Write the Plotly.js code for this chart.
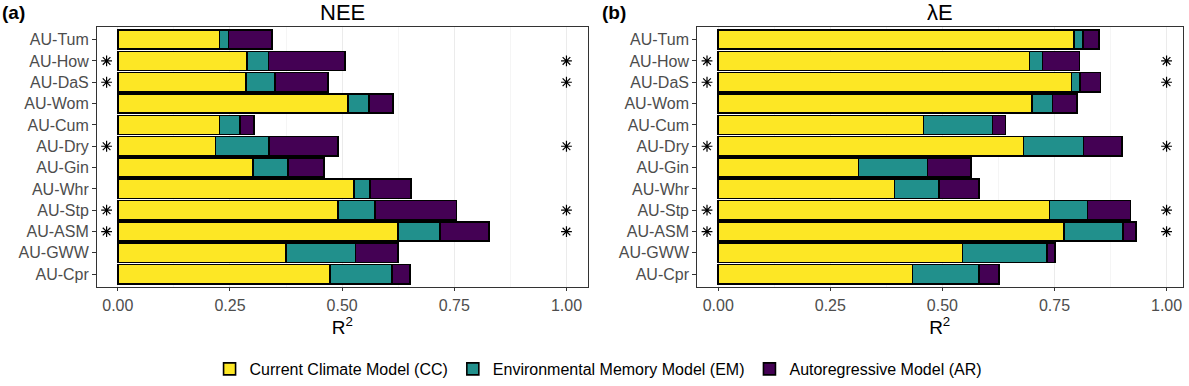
<!DOCTYPE html>
<html><head><meta charset="utf-8">
<script src="https://cdn.plot.ly/plotly-3.0.1.min.js"></script>
<style>html,body{margin:0;padding:0;background:#fff}</style>
</head><body><div id="chart" style="width:1189px;height:386px"></div>
<script>
// Sites, top to bottom
const sites = ['AU-Tum','AU-How','AU-DaS','AU-Wom','AU-Cum','AU-Dry','AU-Gin','AU-Whr','AU-Stp','AU-ASM','AU-GWW','AU-Cpr'];
const models = ['Current Climate Model (CC)','Environmental Memory Model (EM)','Autoregressive Model (AR)'];

// NEE: stacked R2 increments per model
const neeCC = [0.227,0.288,0.286,0.513,0.227,0.218,0.301,0.527,0.491,0.625,0.375,0.473];
const neeEM = [0.020,0.048,0.064,0.047,0.045,0.119,0.078,0.035,0.082,0.093,0.155,0.138];
const neeAR = [0.097,0.170,0.119,0.053,0.032,0.154,0.081,0.091,0.182,0.109,0.094,0.040];

// lambda E: stacked R2 increments per model
const leCC = [0.793,0.694,0.788,0.700,0.458,0.681,0.313,0.393,0.739,0.771,0.545,0.433];
const leEM = [0.021,0.029,0.019,0.046,0.154,0.134,0.154,0.099,0.085,0.132,0.188,0.148];
const leAR = [0.035,0.083,0.046,0.054,0.029,0.085,0.097,0.089,0.096,0.029,0.018,0.045];

// Sites marked with asterisks
const starSites = ['AU-How','AU-DaS','AU-Dry','AU-Stp','AU-ASM'];
const starLowX = -0.025, starHighX = 1.0;

const panelTitles = ['NEE','λE'];
const panelTags = ['(a)','(b)'];
const tickVals = [0,0.25,0.5,0.75,1];
const tickText = ['0.00','0.25','0.50','0.75','1.00'];
const colors = ['#FDE725','#21908C','#440154'];

const W = 1189, H = 386;
const FONT = 'Liberation Sans, Arial, sans-serif';
const panels = [
  {data:[neeCC,neeEM,neeAR], xa:'x', ya:'y', dom:[96.5,588], range:[-0.0475,1.048]},
  {data:[leCC,leEM,leAR], xa:'x2', ya:'y2', dom:[696.7,1182.7], range:[-0.048,1.036]}
];
const plotTop = 27.3, plotBot = 292.3;

const traces = [];
panels.forEach((p, pi) => {
  p.data.forEach((vals, mi) => {
    traces.push({
      type:'bar', orientation:'h', x: vals, y: sites,
      xaxis: p.xa, yaxis: p.ya, name: models[mi], legendgroup: 'm'+mi,
      showlegend: pi === 0,
      marker:{color: colors[mi], line:{color:'#000', width:1.6}},
      hoverinfo:'x+y+name'
    });
  });
  [starLowX, starHighX].forEach(sx => {
    traces.push({
      type:'scatter', mode:'markers', x: starSites.map(() => sx), y: starSites,
      xaxis: p.xa, yaxis: p.ya, showlegend:false, hoverinfo:'skip',
      marker:{symbol:'asterisk-open', size:9, color:'#000', line:{color:'#000', width:1.2}}
    });
  });
});

function xAxis(p, anchor) {
  return {
    domain:[p.dom[0]/W, p.dom[1]/W], range:p.range, anchor: anchor,
    tickvals: tickVals, ticktext: tickText,
    showgrid:true, gridcolor:'#EBEBEB', gridwidth:1,
    minor:{tick0:0.125, dtick:0.25, showgrid:true, gridcolor:'#F2F2F2', gridwidth:0.8, ticks:''},
    zeroline:false, showline:true, mirror:true, linecolor:'#333333', linewidth:1,
    ticks:'outside', ticklen:3.5, tickcolor:'#333333', tickwidth:1,
    tickfont:{family:FONT, size:16, color:'#4D4D4D'},
    title:{text:'R<sup>2</sup>', font:{family:FONT, size:19, color:'#000'}, standoff:7},
    fixedrange:true
  };
}
function yAxis(anchor) {
  return {
    domain:[1 - plotBot/H, 1 - plotTop/H], anchor: anchor,
    type:'category', categoryorder:'array', categoryarray: sites.slice().reverse(),
    range:[-0.6, 11.6], showgrid:false, zeroline:false,
    showline:true, mirror:true, linecolor:'#333333', linewidth:1,
    ticks:'outside', ticklen:3.5, tickcolor:'#333333', tickwidth:1,
    tickfont:{family:FONT, size:16, color:'#4D4D4D'},
    fixedrange:true
  };
}

const annotations = [];
panels.forEach((p, pi) => {
  annotations.push({
    text: panelTitles[pi], xref:'paper', yref:'paper',
    x: (p.dom[0]+p.dom[1])/2/W, y: 1, xanchor:'center', yanchor:'top',
    height: 22, valign:'middle',
    showarrow:false, borderpad:0, font:{family:FONT, size:22, color:'#000'}
  });
});
annotations.push({text:'<b>'+panelTags[0]+'</b>', xref:'paper', yref:'paper', x:1/W, y:1-13/H,
  xanchor:'left', yanchor:'middle', showarrow:false, borderpad:0, font:{family:FONT, size:19, color:'#000'}});
annotations.push({text:'<b>'+panelTags[1]+'</b>', xref:'paper', yref:'paper', x:601/W, y:1-13/H,
  xanchor:'left', yanchor:'middle', showarrow:false, borderpad:0, font:{family:FONT, size:19, color:'#000'}});

const layout = {
  width:W, height:H, margin:{l:0,r:0,t:0,b:0},
  paper_bgcolor:'#fff', plot_bgcolor:'#fff',
  barmode:'stack', bargap:0.1,
  font:{family:FONT},
  xaxis: xAxis(panels[0],'y'), yaxis: yAxis('x'),
  xaxis2: xAxis(panels[1],'y2'), yaxis2: yAxis('x2'),
  showlegend:true,
  legend:{orientation:'h', x:0.503, xanchor:'center', y:1-376/H, yanchor:'middle',
    font:{family:FONT, size:16, color:'#000'}, traceorder:'normal', itemclick:false, itemdoubleclick:false},
  annotations: annotations
};

Plotly.newPlot('chart', traces, layout, {staticPlot:true, displayModeBar:false});
</script>
</body></html>
